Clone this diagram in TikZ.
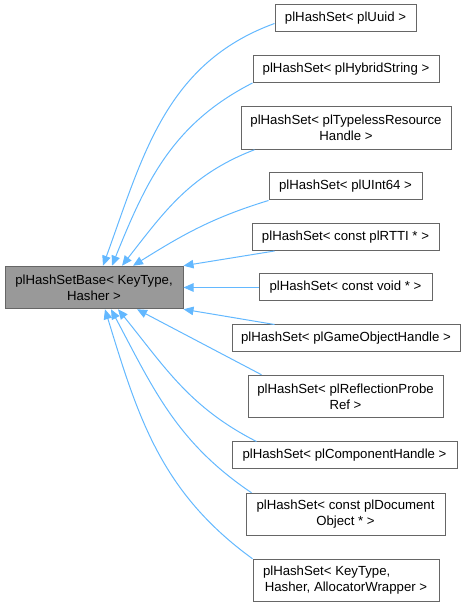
\documentclass[tikz,border=0pt]{standalone}
\usepackage{fontspec}
\setmainfont{Liberation Sans}
\usetikzlibrary{arrows.meta}
\definecolor{EdgeBlue}{HTML}{63B8FF}
\definecolor{BaseGrey}{HTML}{999999}
\definecolor{LineGrey}{HTML}{666666}

\begin{document}
\begin{tikzpicture}[x=1pt,y=1pt,>={Triangle[length=10pt,width=8.5pt]},
  every node/.style={font=\fontsize{13.2}{16}\selectfont,align=center,inner sep=0pt},
  cls/.style={draw=LineGrey,fill=white,line width=1pt,minimum height=27pt},
  cls2/.style={cls,minimum height=42.5pt},
  inh/.style={->,draw=EdgeBlue,line width=1pt}]
\useasboundingbox (0,0) rectangle (465,608);
\node[cls2,fill=BaseGrey,minimum width=178pt] (base) at (94,320.5) {plHashSetBase< KeyType,\\Hasher >};
\node[cls,minimum width=141pt] (uuid) at (345.5,589.5) {plHashSet< plUuid >};
\node[cls,minimum width=186pt] (hybrid) at (346,539) {plHashSet< plHybridString >};
\node[cls2,minimum width=210pt] (typeless) at (346,480) {plHashSet< plTypelessResource\\Handle >};
\node[cls,minimum width=153pt] (uint) at (345.5,421.5) {plHashSet< plUInt64 >};
\node[cls,minimum width=187pt] (rtti) at (345.5,371) {plHashSet< const plRTTI * >};
\node[cls,minimum width=173pt] (void) at (345.5,320.5) {plHashSet< const void * >};
\node[cls,minimum width=228pt] (gameobj) at (346,269.5) {plHashSet< plGameObjectHandle >};
\node[cls2,minimum width=195pt] (probe) at (345.5,211.5) {plHashSet< plReflectionProbe\\Ref >};
\node[cls,minimum width=225pt] (comp) at (344.5,152.5) {plHashSet< plComponentHandle >};
\node[cls2,minimum width=199pt] (docobj) at (345.5,93.5) {plHashSet< const plDocument\\Object * >};
\node[cls2,minimum width=186pt] (alloc) at (346,27.5) {\makebox[166pt][l]{plHashSet< KeyType,}\\Hasher, AllocatorWrapper >};
% inheritance edges
\draw[inh] ([yshift=-5pt]uuid.west) to[out=200,in=70] ([xshift=9pt]base.north);
\draw[inh] (hybrid.south west) to[out=207,in=68] ([xshift=18pt]base.north);
\draw[inh] ([xshift=14pt]typeless.south west) to[out=201,in=52] ([xshift=28pt]base.north);
\draw[inh] (uint.south west) to[out=197,in=32] ([xshift=39pt]base.north);
\draw[inh] ([xshift=23pt]rtti.south west) -- (base.north east);
\draw[inh] (void) -- (base);
\draw[inh] ([xshift=43pt]gameobj.north west) -- (base.south east);
\draw[inh] ([xshift=14pt]probe.north west) -- ([xshift=43pt]base.south);
\draw[inh] ([xshift=25pt]comp.north west) to[out=153,in=-51] ([xshift=24pt]base.south);
\draw[inh] ([xshift=6pt]docobj.north west) to[out=146,in=-62] ([xshift=17pt]base.south);
\draw[inh] (alloc.north west) to[out=144,in=-73] ([xshift=11pt]base.south);
\end{tikzpicture}
\end{document}
